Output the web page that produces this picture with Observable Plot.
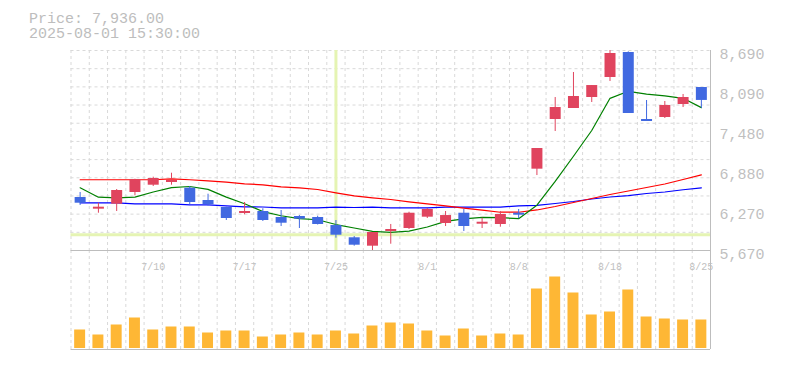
<!DOCTYPE html>
<html><head><meta charset="utf-8">
<script src="https://cdn.jsdelivr.net/npm/d3@7"></script>
<script src="https://cdn.jsdelivr.net/npm/@observablehq/plot@0.6"></script>
<style>
body{margin:0;background:#fff;}
#wrap{position:relative;width:785px;height:370px;overflow:hidden;}
#wrap svg{position:absolute;left:0;top:0;}
#title{position:absolute;left:29px;top:12px;font:15px/15px "Liberation Mono",monospace;color:#bdbdbd;white-space:pre;z-index:2;}
</style></head><body>
<div id="wrap"><div id="title"></div></div>
<script>
// ---- data ----
const dates = ["7/4","7/7","7/8","7/9","7/10","7/11","7/14","7/15","7/16","7/17",
  "7/18","7/22","7/23","7/24","7/25","7/28","7/29","7/30","7/31","8/1",
  "8/4","8/5","8/6","8/7","8/8","8/12","8/13","8/14","8/15","8/18",
  "8/19","8/20","8/21","8/22","8/25"];
const open  = [6470,6294,6369,6546,6656,6697,6611,6425,6319,6229,6259,6168,6183,6168,6047,5862,5735,5957,6002,6173,6078,6233,6067,6063,6233,6898,7648,7814,7980,8282,8660,7648,7678,7875,8131];
const high  = [6546,6384,6591,6747,6777,6837,6636,6520,6325,6395,6300,6274,6198,6188,6123,5881,5942,6063,6248,6304,6259,6289,6158,6259,6289,7210,7980,8358,8161,8690,8670,7935,7920,8026,8131];
const low   = [6350,6233,6259,6496,6636,6656,6360,6339,6123,6209,6108,6032,6002,6055,5856,5735,5670,5765,5987,6153,6032,5957,6002,6022,6149,6802,7467,7814,7905,8222,7739,7618,7663,7829,7814];
const close = [6384,6324,6576,6738,6757,6727,6395,6360,6153,6259,6123,6082,6143,6063,5901,5750,5942,5987,6233,6289,6198,6032,6097,6214,6203,7210,7829,7995,8161,8645,7739,7618,7860,7980,7936];
const volume = [195,145,245,315,195,225,225,165,185,185,125,145,165,145,185,155,235,265,255,185,135,205,135,155,145,605,725,565,345,375,595,325,305,295,295];
const ma5  = [6617,6475,6466,6475,6553,6619,6636,6593,6476,6376,6258,6195,6152,6134,6062,6010,5960,5945,5963,6025,6110,6148,6170,6166,6151,6354,6713,7093,7482,7968,8074,8032,8005,7968,7827];
const ma25 = [6738,6738,6738,6738,6738,6753,6738,6722,6701,6677,6662,6632,6617,6591,6541,6496,6466,6440,6405,6375,6345,6309,6279,6248,6248,6282,6334,6395,6455,6516,6568,6621,6674,6742,6813];
const ma75 = [6390,6390,6390,6375,6375,6375,6360,6360,6345,6330,6327,6315,6315,6315,6324,6319,6324,6315,6315,6315,6324,6324,6324,6324,6345,6350,6380,6410,6448,6478,6500,6531,6553,6587,6617];
const yTicks = [5670,6274,6878,7482,8086,8690];
const yTickLabels = ["5,670","6,270","6,880","7,480","8,090","8,690"];
const xTickLabels = ["7/10","7/17","7/25","8/1","8/8","8/18","8/25"];
const priceText = "Price: 7,936.00";
const timeText = "2025-08-01 15:30:00";
const crossDate = "7/25";
const crossPrice = 5908;

// ---- styles ----
const UP = "#e0445e", DOWN = "#4169e1", VOL = "#feb735";
const GRID = "#d9d9d9", BORDER = "#bdbdbd", LABEL = "#bfbfbf", CROSS = "#e5f4b3";
const MONO = "Liberation Mono, DejaVu Sans Mono, monospace";

document.getElementById("title").textContent = priceText + "\n" + timeText;

const n = dates.length;
const days = dates.map((d, i) => ({i, date: d, o: open[i], h: high[i], l: low[i], c: close[i], v: volume[i],
  ma5: ma5[i], ma25: ma25[i], ma75: ma75[i], col: close[i] >= open[i] ? UP : DOWN}));
const lo = d3.min(low), hi = d3.max(high);
const edges = d3.range(n).map(k => k - 0.5);
const hGrid = d3.range(1, 12).map(k => lo + k * (hi - lo) / 11);
const crossIdx = dates.indexOf(crossDate);

const common = {width: 785, height: 370, marginLeft: 70.5, marginRight: 75,
  style: {background: "transparent", overflow: "visible"}};

const price = Plot.plot({
  ...common, marginTop: 50, marginBottom: 120,
  x: {type: "linear", domain: [-0.5, n - 0.5], axis: null},
  y: {domain: [lo, hi], axis: null},
  color: {type: "identity"},
  marks: [
    Plot.ruleX(edges, {stroke: GRID, strokeDasharray: "3,3"}),
    Plot.ruleY(hGrid, {stroke: GRID, strokeDasharray: "3,3"}),
    Plot.ruleY([lo], {stroke: BORDER}),
    Plot.ruleX([n - 0.5], {stroke: BORDER}),
    Plot.ruleX([crossIdx], {stroke: CROSS, strokeWidth: 3}),
    Plot.ruleY([crossPrice], {stroke: CROSS, strokeWidth: 3}),
    Plot.line(days, {x: "i", y: "ma75", stroke: "#0000ff", strokeWidth: 1.2}),
    Plot.line(days, {x: "i", y: "ma25", stroke: "#ff0000", strokeWidth: 1.2}),
    Plot.line(days, {x: "i", y: "ma5", stroke: "#008000", strokeWidth: 1.2}),
    Plot.ruleX(days, {x: "i", y1: "l", y2: "h", stroke: "col", strokeWidth: 1}),
    Plot.ruleX(days, {x: "i", y1: "o", y2: "c", stroke: "col", strokeWidth: 11}),
    Plot.text(yTicks, {y: d => d, text: (d, i) => yTickLabels[i], frameAnchor: "right", dx: 9, dy: 4,
      textAnchor: "start", fill: LABEL, fontSize: 15, fontFamily: MONO})
  ]
});

const vol = Plot.plot({
  ...common, marginTop: 250, marginBottom: 21,
  x: {type: "linear", domain: [-0.5, n - 0.5], axis: null},
  y: {domain: [0, 990], axis: null},
  marks: [
    Plot.ruleX(edges, {stroke: GRID, strokeDasharray: "3,3"}),
    Plot.ruleY([0], {stroke: BORDER}),
    Plot.ruleX([n - 0.5], {stroke: BORDER}),
    Plot.rectY(days, {x1: d => d.i - 0.3, x2: d => d.i + 0.3, y: "v", fill: VOL, insetBottom: 1}),
    Plot.text(xTickLabels, {x: d => dates.indexOf(d), text: d => d, frameAnchor: "top", dy: 12,
      fill: LABEL, fontSize: 10, fontFamily: MONO})
  ]
});

const wrap = document.getElementById("wrap");
wrap.appendChild(vol);
wrap.appendChild(price);
</script>
</body></html>
